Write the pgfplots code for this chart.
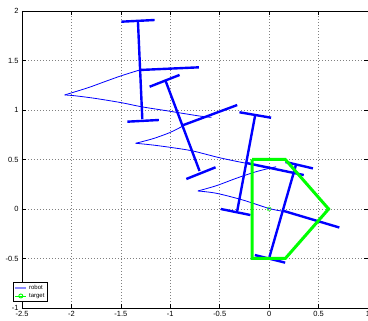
\documentclass[border=0pt]{standalone}
\usepackage{fontspec}
\setmainfont{Liberation Sans}
\usepackage{pgfplots}
\pgfplotsset{compat=1.18}
\begin{document}
\begin{tikzpicture}[x=1pt,y=1pt]
\useasboundingbox (0,0) rectangle (368,321);
\begin{axis}[
  at={(22pt,13pt)}, anchor=south west,
  scale only axis, width=346pt, height=297pt,
  xmin=-2.5, xmax=1, ymin=-1, ymax=2,
  xtick={-2.5,-2,-1.5,-1,-0.5,0,0.5,1},
  ytick={-1,-0.5,0,0.5,1,1.5,2},
  /pgf/number format/assume math mode=true,
  tick label style={font=\fontsize{7.5}{8}\selectfont},
  tick align=inside, major tick length=4pt,
  tick style={black, line width=0.6pt},
  axis line style={line width=0.9pt},
  grid=major, grid style={dash pattern=on 0.7pt off 2.3pt, black!50, line width=0.6pt},
  legend style={at={(-0.025,0.021)}, anchor=south west, draw=black, line width=0.6pt,
    font=\fontsize{6}{6.5}\selectfont, inner sep=0.8pt, row sep=-1.5pt, cells={anchor=west}},
  legend image code/.code={\draw[mark repeat=2,mark phase=2,#1] plot coordinates {(0pt,0pt) (5.5pt,0pt) (11pt,0pt)};},
]
\addlegendimage{blue!45, line width=1.7pt}
\addlegendentry{robot}
\addlegendimage{green, line width=0.9pt, mark=o, mark size=2pt}
\addlegendentry{target}

% trajectories (thin)
\pgfplotsset{traj/.style={blue, line width=0.8pt, smooth, tension=0.5, forget plot}}
\addplot[traj] coordinates {(-2.068,1.152) (-1.832,1.225) (-1.664,1.286) (-1.495,1.346) (-1.310,1.404)};
\addplot[traj] coordinates {(-2.068,1.152) (-1.967,1.144) (-1.765,1.118) (-1.495,1.074) (-1.293,1.033) (-1.040,0.993) (-0.704,0.939) (-0.583,0.926)};
\addplot[traj] coordinates {(-1.350,0.664) (-1.176,0.710) (-1.007,0.771) (-0.878,0.835)};
\addplot[traj] coordinates {(-1.350,0.664) (-1.176,0.646) (-0.974,0.619) (-0.772,0.586) (-0.502,0.518) (-0.232,0.462) (0.071,0.411)};
\addplot[traj] coordinates {(-0.721,0.182) (-0.535,0.235) (-0.333,0.310) (-0.131,0.377) (0.071,0.427)};
\addplot[traj] coordinates {(-0.721,0.182) (-0.535,0.159) (-0.267,0.091) (0.003,0.004) (0.137,-0.022)};

% robots (thick)
\pgfplotsset{rob/.style={blue, line width=2.4pt, forget plot}}
% robot 1
\addplot[rob] coordinates {(-1.327,1.892) (-1.283,0.909)};
\addplot[rob] coordinates {(-1.495,1.892) (-1.159,1.909)};
\addplot[rob] coordinates {(-1.434,0.882) (-1.115,0.899)};
\addplot[rob] coordinates {(-1.310,1.404) (-0.711,1.431)};
% robot 2
\addplot[rob] coordinates {(-1.051,1.303) (-0.704,0.384)};
\addplot[rob] coordinates {(-1.209,1.235) (-0.906,1.354)};
\addplot[rob] coordinates {(-0.838,0.303) (-0.542,0.421)};
\addplot[rob] coordinates {(-0.878,0.844) (-0.323,1.050)};
% robot 3
\addplot[rob] coordinates {(-0.141,0.949) (-0.323,-0.020)};
\addplot[rob] coordinates {(-0.300,0.977) (0.020,0.922)};
\addplot[rob] coordinates {(-0.489,0.000) (-0.189,-0.061)};
\addplot[rob] coordinates {(-0.232,0.465) (0.350,0.343)};
% robot 4
\addplot[rob] coordinates {(0.272,0.448) (0.003,-0.485)};
\addplot[rob] coordinates {(0.165,0.475) (0.443,0.410)};
\addplot[rob] coordinates {(-0.145,-0.465) (0.162,-0.542)};
\addplot[rob] coordinates {(0.135,-0.016) (0.710,-0.187)};

% target
\addplot[green, line width=3pt, forget plot] coordinates {(-0.172,0.502) (0.162,0.502) (0.602,0.0) (0.165,-0.498) (-0.172,-0.498) (-0.172,0.502)};
\addplot[green, line width=0.5pt, mark=o, mark size=2pt, only marks, forget plot] coordinates {(0,0)};
\end{axis}
\end{tikzpicture}
\end{document}
